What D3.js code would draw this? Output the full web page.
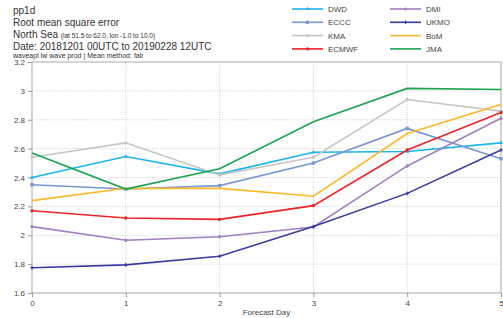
<!DOCTYPE html>
<html>
<head>
<meta charset="utf-8">
<script src="https://cdn.jsdelivr.net/npm/d3@7"></script>
<style>
  body { margin: 0; background: #fff; font-family: "Liberation Sans", Arial, sans-serif; overflow: hidden; }
  svg { display: block; }
  .axis text { font-size: 8px; fill: #444; }
  .axis path, .axis line { stroke: #999; }
  .grid line { stroke: #ccc; stroke-dasharray: 1,1.5; }
</style>
</head>
<body>
<svg id="chart"></svg>
<script>
const chartWidth = 503;
const chartHeight = 318;
const margin = {top: 62, right: 2, bottom: 25, left: 32};
const innerWidth = chartWidth - margin.left - margin.right;
const innerHeight = chartHeight - margin.top - margin.bottom;

const days = [0, 1, 2, 3, 4, 5];
const yTicks = [1.6, 1.8, 2, 2.2, 2.4, 2.6, 2.8, 3, 3.2];

const dwd   = [2.40, 2.545, 2.425, 2.575, 2.58, 2.64];
const eccc  = [2.35, 2.32, 2.344, 2.50, 2.74, 2.53];
const kma   = [2.54, 2.64, 2.418, 2.54, 2.94, 2.86];
const ecmwf = [2.17, 2.12, 2.11, 2.205, 2.59, 2.85];
const dmi   = [2.06, 1.965, 1.99, 2.057, 2.48, 2.81];
const ukmo  = [1.775, 1.795, 1.855, 2.06, 2.29, 2.59];
const bom   = [2.24, 2.325, 2.325, 2.27, 2.705, 2.905];
const jma   = [2.57, 2.32, 2.46, 2.786, 3.017, 3.01];

const series = [
  {name: "DWD", values: dwd, color: "#1cb4ef", marker: "triangle"},
  {name: "ECCC", values: eccc, color: "#7896d4", marker: "square"},
  {name: "KMA", values: kma, color: "#c6c6c6", marker: "circle"},
  {name: "ECMWF", values: ecmwf, color: "#ec2428", marker: "circle"},
  {name: "DMI", values: dmi, color: "#a47fc2", marker: "circle"},
  {name: "UKMO", values: ukmo, color: "#3a3b9e", marker: "cross"},
  {name: "BoM", values: bom, color: "#fdb827", marker: "none"},
  {name: "JMA", values: jma, color: "#1ea452", marker: "none"}
];

const svg = d3.select("#chart").attr("width", chartWidth).attr("height", chartHeight);
const g = svg.append("g").attr("transform", `translate(${margin.left},${margin.top})`);

const xScale = d3.scaleLinear().domain([0, 5]).range([0, innerWidth]);
const yScale = d3.scaleLinear().domain([1.6, 3.2]).range([innerHeight, 0]);

// grid
g.append("g").attr("class", "grid")
  .selectAll("line").data(yTicks.slice(1, -1)).join("line")
  .attr("x1", 0).attr("x2", innerWidth)
  .attr("y1", d => yScale(d)).attr("y2", d => yScale(d));
g.append("g").attr("class", "grid")
  .selectAll("line").data(days.slice(1, -1)).join("line")
  .attr("x1", d => xScale(d)).attr("x2", d => xScale(d))
  .attr("y1", 0).attr("y2", innerHeight);

// frame
g.append("rect").attr("width", innerWidth).attr("height", innerHeight)
  .attr("fill", "none").attr("stroke", "#aaa");

g.append("g").attr("class", "axis")
  .attr("transform", `translate(0,${innerHeight})`)
  .call(d3.axisBottom(xScale).tickValues(days).tickSize(4).tickFormat(d3.format("d")))
  .call(a => a.select(".domain").remove());
g.append("g").attr("class", "axis")
  .call(d3.axisLeft(yScale).tickValues(yTicks).tickSize(4).tickFormat(d => d))
  .call(a => a.select(".domain").remove());

g.append("text").attr("x", innerWidth / 2).attr("y", innerHeight + 22)
  .attr("text-anchor", "middle").attr("font-size", 8).attr("fill", "#444")
  .text("Forecast Day");

const line = d3.line().x((d, i) => xScale(days[i])).y(d => yScale(d));

function drawMarker(sel, type, color, size) {
  if (type === "square") {
    sel.append("rect").attr("x", -size).attr("y", -size).attr("width", size * 2).attr("height", size * 2).attr("fill", color);
  } else if (type === "circle") {
    sel.append("circle").attr("r", size).attr("fill", color);
  } else if (type === "triangle") {
    sel.append("path").attr("d", d3.symbol(d3.symbolTriangle, size * size * 2.5)).attr("fill", color);
  } else if (type === "cross") {
    sel.append("path").attr("d", d3.symbol(d3.symbolCross, size * size * 2.5)).attr("fill", color);
  }
}

for (const s of series) {
  g.append("path").datum(s.values)
    .attr("fill", "none").attr("stroke", s.color).attr("stroke-width", 1.6)
    .attr("d", line);
  s.values.forEach((v, i) => {
    const m = g.append("g").attr("transform", `translate(${xScale(days[i])},${yScale(v)})`);
    drawMarker(m, s.marker, s.color, 1.7);
  });
}

// legend
const legend = svg.append("g");
series.forEach((s, i) => {
  const col = Math.floor(i / 4), row = i % 4;
  const lx = 292 + col * 98, ly = 9 + row * 13.3;
  const lg = legend.append("g").attr("transform", `translate(${lx},${ly})`);
  lg.append("line").attr("x1", 0).attr("x2", 31).attr("stroke", s.color).attr("stroke-width", 1.6);
  const m = lg.append("g").attr("transform", "translate(15.5,0)");
  drawMarker(m, s.marker, s.color, 1.6);
  lg.append("text").attr("x", 36).attr("y", 3).attr("font-size", 8).attr("fill", "#444").text(s.name);
});

// titles
const t = svg.append("g").attr("fill", "#333");
t.append("text").attr("x", 13).attr("y", 14).attr("font-size", 10).text("pp1d");
t.append("text").attr("x", 13).attr("y", 26).attr("font-size", 10).text("Root mean square error");
const ns = t.append("text").attr("x", 13).attr("y", 38).attr("font-size", 10);
ns.append("tspan").text("North Sea ");
ns.append("tspan").attr("font-size", 6.5).text("(lat  51.5 to 62.0, lon -1.0 to  10.0)");
t.append("text").attr("x", 13).attr("y", 50).attr("font-size", 10).text("Date: 20181201 00UTC to 20190228 12UTC");
t.append("text").attr("x", 13).attr("y", 58).attr("font-size", 7).text("waveapi lw wave prod | Mean method: fair");
</script>
</body>
</html>
